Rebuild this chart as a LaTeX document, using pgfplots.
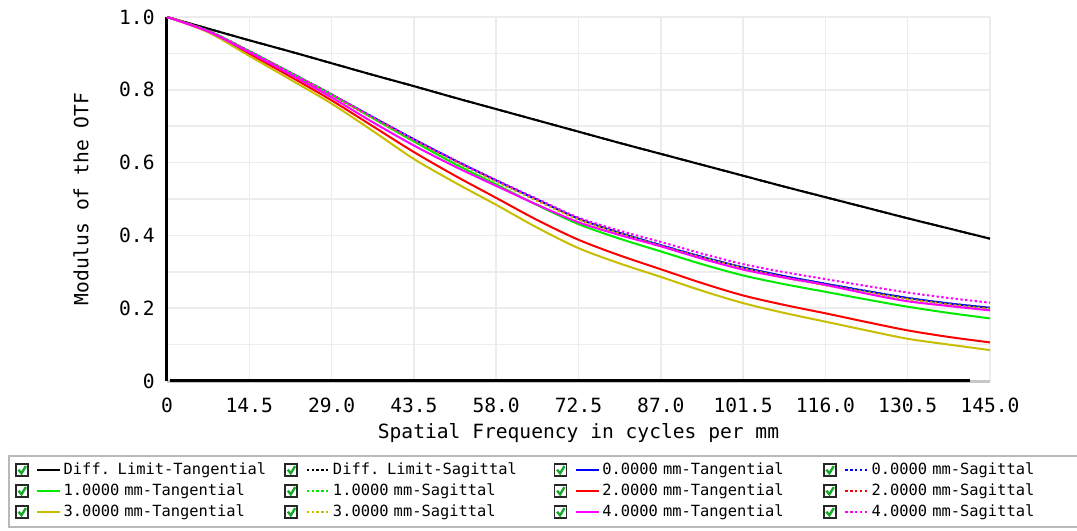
\documentclass[border=0pt]{standalone}
\usepackage{fontspec}
\setmainfont{DejaVu Sans Mono}
\usepackage{pgfplots}
\pgfplotsset{compat=1.18}
\usepackage{pgfplotstable}

\definecolor{mblue}{RGB}{0,0,255}
\definecolor{mgreen}{RGB}{0,235,0}
\definecolor{mred}{RGB}{255,0,0}
\definecolor{myellow}{RGB}{200,190,0}
\definecolor{mmag}{RGB}{255,0,255}
\definecolor{gridc}{RGB}{236,236,236}
\definecolor{checkg}{RGB}{20,170,40}

\pgfplotstableread{
f      dl    t0    s0    t1    s1    t2    s2    t3    s3    t4    s4
0      1.000 1.000 1.000 1.000 1.000 1.000 1.000 1.000 1.000 1.000 1.000
7.25   0.968 0.962 0.962 0.962 0.962 0.960 0.962 0.958 0.962 0.960 0.962
14.5   0.936 0.906 0.906 0.906 0.905 0.899 0.905 0.893 0.905 0.903 0.906
21.75  0.905 0.847 0.847 0.847 0.846 0.836 0.846 0.828 0.845 0.842 0.847
29     0.873 0.787 0.787 0.787 0.786 0.771 0.785 0.762 0.785 0.779 0.787
36.25  0.841 0.725 0.725 0.722 0.724 0.700 0.723 0.687 0.723 0.711 0.725
43.5   0.810 0.664 0.664 0.658 0.663 0.629 0.662 0.610 0.662 0.647 0.664
50.75  0.778 0.606 0.606 0.596 0.605 0.564 0.604 0.545 0.603 0.589 0.606
58     0.747 0.551 0.551 0.540 0.550 0.503 0.549 0.484 0.548 0.536 0.552
65.25  0.716 0.498 0.498 0.483 0.497 0.442 0.496 0.421 0.495 0.484 0.500
72.5   0.685 0.446 0.446 0.431 0.445 0.388 0.444 0.365 0.443 0.436 0.449
79.75  0.654 0.407 0.407 0.391 0.406 0.345 0.405 0.323 0.404 0.401 0.413
87     0.624 0.373 0.373 0.356 0.372 0.307 0.371 0.286 0.370 0.370 0.382
94.25  0.594 0.341 0.341 0.321 0.340 0.269 0.339 0.248 0.338 0.336 0.350
101.5  0.564 0.312 0.312 0.290 0.311 0.235 0.310 0.214 0.309 0.306 0.321
108.75 0.534 0.288 0.288 0.266 0.286 0.209 0.285 0.187 0.284 0.284 0.299
116    0.505 0.267 0.267 0.245 0.265 0.186 0.264 0.163 0.263 0.264 0.280
123.25 0.476 0.247 0.247 0.224 0.245 0.162 0.244 0.139 0.243 0.240 0.261
130.5  0.447 0.228 0.228 0.204 0.226 0.139 0.225 0.116 0.224 0.219 0.243
137.75 0.419 0.213 0.213 0.187 0.211 0.121 0.210 0.100 0.209 0.206 0.228
145    0.391 0.201 0.201 0.172 0.199 0.106 0.198 0.085 0.197 0.194 0.215
}\mtf

\begin{document}
\begin{tikzpicture}
\useasboundingbox (-83.5bp,-75bp) rectangle (455bp,190.5bp);
\begin{axis}[
  scale only axis, width=411.5bp, height=182bp,
  xmin=0, xmax=145, ymin=0, ymax=1,
  axis lines*=left,
  x axis line style={gray!45, line width=1.5bp},
  y axis line style={black, line width=1.5bp},
  xtick={0,14.5,29,43.5,58,72.5,87,101.5,116,130.5,145},
  xticklabels={0,14.5,29.0,43.5,58.0,72.5,87.0,101.5,116.0,130.5,145.0},
  ytick={0,0.2,0.4,0.6,0.8,1},
  yticklabels={0,0.2,0.4,0.6,0.8,1.0},
  minor ytick={0.1,0.3,0.5,0.7,0.9},
  grid=both,
  major grid style={gridc, line width=0.75bp},
  minor grid style={gridc, line width=0.75bp},
  major tick length=0pt, minor tick length=0pt,
  tick label style={font=\fontsize{9.8bp}{11bp}\selectfont},
  xticklabel style={anchor=north, inner sep=0pt, yshift=-8.5bp},
  yticklabel style={anchor=east, inner sep=0pt, xshift=-6bp},
  label style={font=\fontsize{9.8bp}{11bp}\selectfont},
  xlabel={Spatial Frequency in cycles per mm},
  ylabel={Modulus of the OTF},
  xlabel style={at={(axis description cs:0.5,-0.1429)}, anchor=center},
  ylabel style={at={(axis description cs:-0.1045,0.5)}, anchor=center},
  legend columns=4,
  legend image code/.code={
    \draw[solid, draw=black!85, line width=0.9bp, fill=white] (-0.4bp,-2.9bp) rectangle (5.6bp,3.1bp);
    \draw[solid, draw=checkg, line width=1.2bp] (0.9bp,0.4bp) -- (2.4bp,-1.4bp) -- (4.6bp,2.2bp);
    \draw[#1, line width=1bp] (10.4bp,0.2bp) -- (21.7bp,0.2bp);
  },
  legend style={
    at={(axis description cs:0,0)}, anchor=north west,
    xshift=-79.5bp, yshift=-37bp,
    draw=gray!55, line width=1bp,
    inner xsep=3bp, inner ysep=2bp,
    column sep=0pt, row sep=0pt,
    font=\fontsize{7.7bp}{9bp}\selectfont,
    nodes={text width=104bp, align=left, inner xsep=1.3bp, inner ysep=1.5bp,
           text height=5.8bp, text depth=1.7bp},
    /tikz/every even column/.append style={column sep=5bp},
  },
  every axis plot/.append style={line width=1bp, smooth},
]
\addplot[black] table[x=f,y=dl]{\mtf};
\addlegendentry{\mbox{Diff. Limit-Tangential}}
\addplot[black, dash pattern=on 1.2bp off 1.2bp] table[x=f,y=dl]{\mtf};
\addlegendentry{\mbox{Diff. Limit-Sagittal}}
\addplot[mblue] table[x=f,y=t0]{\mtf};
\addlegendentry{\mbox{0.0000 mm-Tangential}}
\addplot[mblue, dash pattern=on 1.2bp off 1.2bp] table[x=f,y=s0]{\mtf};
\addlegendentry{\mbox{0.0000 mm-Sagittal}}
\addplot[mgreen] table[x=f,y=t1]{\mtf};
\addlegendentry{\mbox{1.0000 mm-Tangential}}
\addplot[mgreen, dash pattern=on 1.2bp off 1.2bp] table[x=f,y=s1]{\mtf};
\addlegendentry{\mbox{1.0000 mm-Sagittal}}
\addplot[mred] table[x=f,y=t2]{\mtf};
\addlegendentry{\mbox{2.0000 mm-Tangential}}
\addplot[mred, dash pattern=on 1.2bp off 1.2bp] table[x=f,y=s2]{\mtf};
\addlegendentry{\mbox{2.0000 mm-Sagittal}}
\addplot[myellow] table[x=f,y=t3]{\mtf};
\addlegendentry{\mbox{3.0000 mm-Tangential}}
\addplot[myellow, dash pattern=on 1.2bp off 1.2bp] table[x=f,y=s3]{\mtf};
\addlegendentry{\mbox{3.0000 mm-Sagittal}}
\addplot[mmag] table[x=f,y=t4]{\mtf};
\addlegendentry{\mbox{4.0000 mm-Tangential}}
\addplot[mmag, dash pattern=on 1.2bp off 1.2bp] table[x=f,y=s4]{\mtf};
\addlegendentry{\mbox{4.0000 mm-Sagittal}}
\draw[black, line width=2bp] (axis cs:0.6,0) -- (axis cs:141.5,0);
\end{axis}
\end{tikzpicture}
\end{document}
